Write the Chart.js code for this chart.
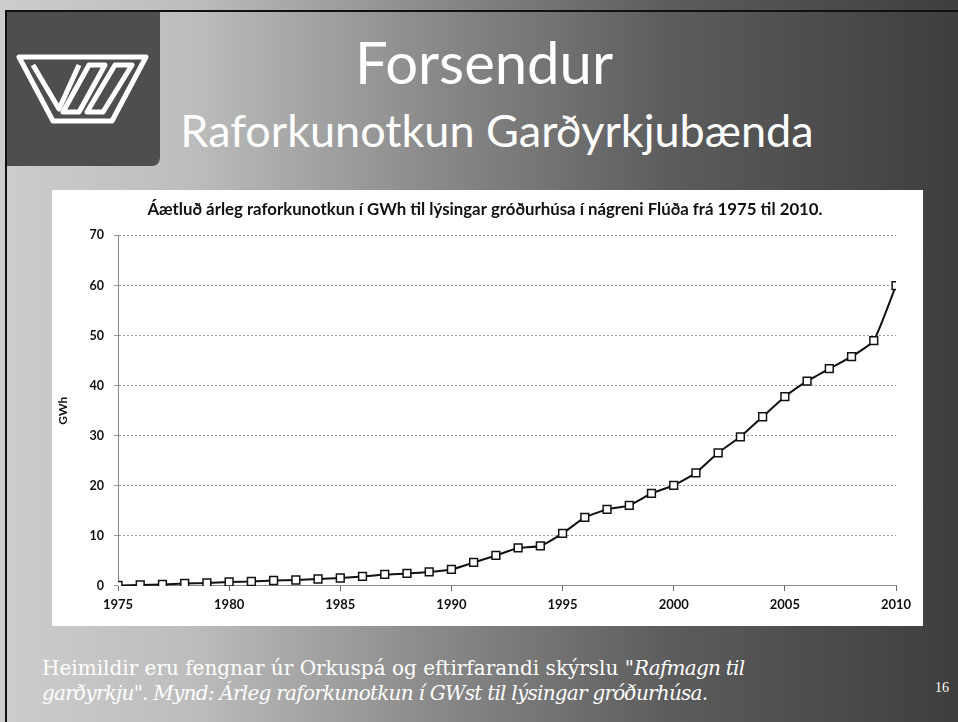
<!DOCTYPE html>
<html>
<head>
<meta charset="utf-8">
<script src="https://cdn.jsdelivr.net/npm/chart.js@4/dist/chart.umd.min.js"></script>
<style>
  html, body { margin: 0; padding: 0; }
  body {
    width: 958px; height: 722px; overflow: hidden; position: relative;
    background: linear-gradient(to right, #cdcdcd 0%, #bdbdbd 20%, #8a8a8a 45%, #5c5c5c 70%, #3e3e3e 100%);
    font-family: "Lato", sans-serif;
  }
  #frameTop { position: absolute; left: 5px; top: 10px; width: 953px; height: 2px; background: #111; }
  #frameLeft { position: absolute; left: 5px; top: 10px; width: 2px; height: 712px; background: #111; }
  #logo { position: absolute; left: 7px; top: 12px; width: 153px; height: 154px; background: #4e4e4e; border-radius: 0 0 8px 0; }
  #logo svg { position: absolute; left: 0; top: 0; }
  #t1 { position: absolute; left: 224px; width: 520px; top: 27px; text-align: center; color: #fff; font-size: 58px; line-height: 70px; }
  #t2 { position: absolute; left: 157px; width: 680px; top: 103px; text-align: center; color: #fff; font-size: 45px; line-height: 54px; }
  #box { position: absolute; left: 52px; top: 190px; width: 871px; height: 436px; background: #fff; }
  #foot { position: absolute; left: 42px; top: 656px; color: #fff; font-family: "DejaVu Serif", serif; font-size: 20px; line-height: 25px; white-space: nowrap; }
  #foot i { letter-spacing: -0.75px; }
  #pg { position: absolute; left: 935px; top: 680px; color: #fff; font-family: "Liberation Serif", serif; font-size: 14px; }
</style>
</head>
<body>
<div id="frameTop"></div>
<div id="frameLeft"></div>
<div id="logo">
  <svg width="153" height="154" viewBox="0 0 153 154">
    <g fill="none" stroke="#fff" stroke-width="5" stroke-linejoin="round">
      <polygon points="12,45 139,45 105,109 46,109"/>
      <polyline points="26,53 52,97 72,53"/>
      <polygon points="82,53 98,53 72,100 56,100"/>
      <polygon points="108,53 125,53 96,100 80,100"/>
    </g>
  </svg>
</div>
<div id="t1">Forsendur</div>
<div id="t2">Raforkunotkun Garðyrkjubænda</div>
<div id="box"><canvas id="c" width="871" height="436"></canvas></div>
<div id="foot">Heimildir eru fengnar úr Orkuspá og eftirfarandi skýrslu "<i>Rafmagn til</i><br><i>garðyrkju". Mynd: Árleg raforkunotkun í GWst til lýsingar gróðurhúsa.</i></div>
<div id="pg">16</div>
<script>
const years = [1975,1976,1977,1978,1979,1980,1981,1982,1983,1984,1985,1986,1987,1988,1989,1990,1991,1992,1993,1994,1995,1996,1997,1998,1999,2000,2001,2002,2003,2004,2005,2006,2007,2008,2009,2010];
const gwh = [0.1,0.2,0.3,0.5,0.6,0.8,0.9,1.1,1.2,1.4,1.6,1.9,2.3,2.5,2.8,3.3,4.7,6.1,7.6,8.0,10.5,13.7,15.3,16.1,18.5,20.1,22.6,26.6,29.8,33.8,37.8,40.9,43.4,45.8,49.0,60.0];
const chartTitle = "Áætluð árleg raforkunotkun í GWh til lýsingar gróðurhúsa í nágreni Flúða frá 1975 til 2010.";
const yTitle = "GWh";

new Chart(document.getElementById('c'), {
  type: 'line',
  data: {
    datasets: [{
      data: years.map((y, i) => ({ x: y, y: gwh[i] })),
      borderColor: '#111',
      borderWidth: 2,
      tension: 0.15,
      pointStyle: 'rect',
      pointRadius: 5.5,
      pointBackgroundColor: '#fff',
      pointBorderColor: '#111',
      pointBorderWidth: 1.5
    }]
  },
  options: {
    responsive: false,
    animation: false,
    devicePixelRatio: 1,
    layout: { padding: { left: 22, right: 27, top: 0, bottom: 0 } },
    plugins: {
      legend: { display: false },
      tooltip: { enabled: false },
      title: {
        display: true, text: chartTitle, color: '#111',
        font: { family: 'Lato', weight: 'bold', size: 16.8, lineHeight: 1.2 },
        padding: { top: 9.9, bottom: 15.4 }
      }
    },
    scales: {
      x: {
        type: 'linear', min: 1975, max: 2010,
        ticks: { stepSize: 5, color: '#111', padding: 6, font: { family: 'Lato', weight: 'bold', size: 13 }, callback: v => String(v) },
        grid: { drawOnChartArea: false, drawTicks: true, tickLength: 5, color: '#666' },
        border: { display: true, color: '#888', dash: [2, 2] },
        afterFit: s => { s.height = 40; }
      },
      y: {
        min: 0, max: 70,
        ticks: { stepSize: 10, color: '#111', padding: 10, font: { family: 'Lato', weight: 'bold', size: 12.5 } },
        grid: { color: '#999', tickLength: 4, drawTicks: true },
        border: { display: true, color: '#888', dash: [2, 2] },
        title: { display: true, text: yTitle, color: '#111', font: { family: 'Lato', weight: 'bold', size: 12, lineHeight: 1.2 }, padding: { top: -18.2, bottom: 0 } },
        afterFit: s => { s.width = 44; }
      }
    }
  }
});
</script>
</body>
</html>
